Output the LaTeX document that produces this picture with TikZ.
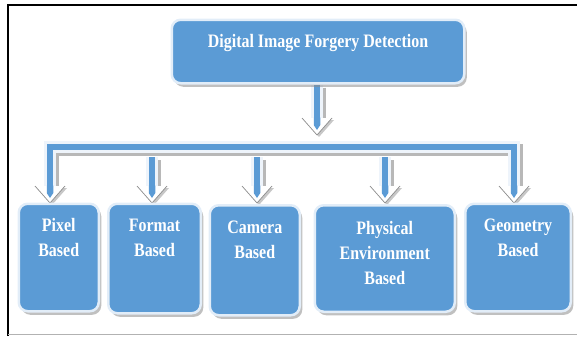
\documentclass[tikz,border=0pt]{standalone}
\usepackage{fontspec}
\setmainfont{Liberation Serif}[FakeStretch=0.84]
\usetikzlibrary{shadows,backgrounds}
\definecolor{boxblue}{RGB}{91,155,213}
\definecolor{boxedge}{RGB}{226,237,248}
\definecolor{pipeedge}{RGB}{238,244,251}
\newcommand\boxtext[4]{\parbox[c][#1][t]{#2}{\centering\rule{0pt}{#3}#4}}
\tikzset{
  fbox/.style={rectangle, rounded corners=9pt, fill=boxblue, draw=boxedge,
    line width=2.5pt, inner sep=0pt, text=white,
    font=\bfseries\fontsize{19}{25}\selectfont,
    drop shadow={shadow xshift=2.5pt, shadow yshift=-3.5pt, fill=black!45, opacity=0.55}},
  pipe/.style={draw=boxblue, line width=6.5pt,
    preaction={draw=black!28, line width=12.5pt, transform canvas={xshift=2.5pt,yshift=-3pt}},
    preaction={draw=pipeedge, line width=12.5pt}},
  ahead/.pic={
    \fill[black!22] (2,2) -- (-13,-15) -- (17,-15) -- cycle;
    \fill[white] (0,0) -- (-15,-17) -- (15,-17) -- cycle;
    \draw[black!45, line width=0.7pt, line join=round] (-15,-17) -- (0,0) -- (15,-17);
    \fill[boxblue] (-3.25,-17.3) -- (3.25,-17.3) -- (3.25,-10) -- (0,-5) -- (-3.25,-10) -- cycle;
  }
}
\begin{document}
\begin{tikzpicture}[x=1pt,y=-1pt]
\useasboundingbox (0,0) rectangle (577,338);
% boxes
\node[fbox] (top) at (318,51.5) {\boxtext{63.5pt}{292.5pt}{27.25pt}{Digital Image Forgery Detection}};
\node[fbox] (pixel) at (58.75,257.5) {\boxtext{107.5pt}{80pt}{27.25pt}{Pixel\\Based}};
\node[fbox] (format) at (154.5,258.5) {\boxtext{109.5pt}{92.5pt}{27.25pt}{Format\\Based}};
\node[fbox] (camera) at (254.75,260.25) {\boxtext{110pt}{90pt}{28.5pt}{Camera\\Based}};
\node[fbox] (physical) at (384.75,258.5) {\boxtext{106.5pt}{140pt}{29.5pt}{Physical\\Environment\\Based}};
\node[fbox] (geometry) at (518,257.5) {\boxtext{107.5pt}{105.5pt}{27.25pt}{Geometry\\Based}};
% connector points
\coordinate (tipT) at (317,135);
\coordinate (hubL) at (50,147);
\coordinate (hubR) at (514,147);
\coordinate (barlow) at (0,157);
\coordinate (tipP) at (50,203);
\coordinate (tipF) at (152,203);
\coordinate (tipC) at (257,203);
\coordinate (tipE) at (385,203);
\coordinate (tipG) at (514,203);
\begin{scope}[on background layer]
  \draw[line width=2.2pt] (8,336) -- (8,5.3) -- (578,5.3);
  \draw[black!30, line width=1pt] (8,334) -- (577,334);
  \draw[pipe] (top.south -| tipT) -- ([yshift=17pt]tipT);
  \pic at (tipT) {ahead};
  \draw[pipe] ([yshift=17pt]tipP) -- (hubL) -- (hubR) -- ([yshift=17pt]tipG);
  \draw[pipe] (tipF |- barlow) -- ([yshift=17pt]tipF);
  \draw[pipe] (tipC |- barlow) -- ([yshift=17pt]tipC);
  \draw[pipe] (tipE |- barlow) -- ([yshift=17pt]tipE);
  \pic at (tipP) {ahead};
  \pic at (tipF) {ahead};
  \pic at (tipC) {ahead};
  \pic at (tipE) {ahead};
  \pic at (tipG) {ahead};
\end{scope}
\end{tikzpicture}
\end{document}
